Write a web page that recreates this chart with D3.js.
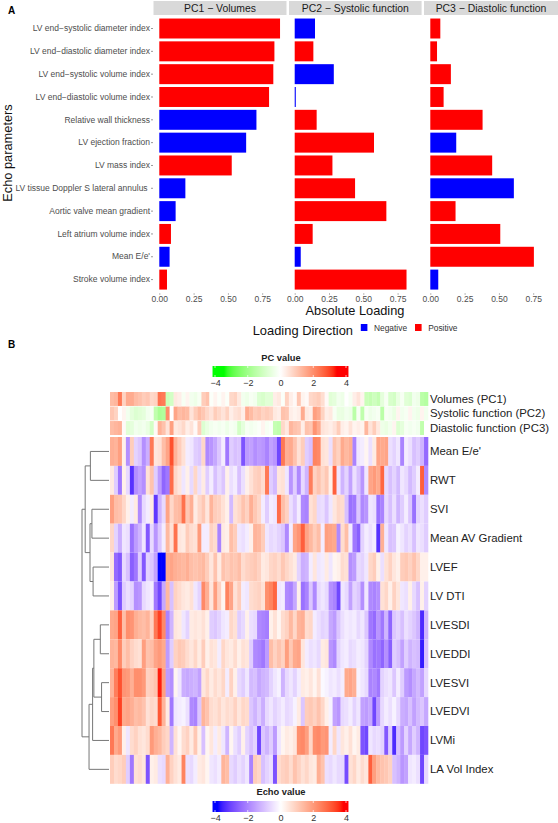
<!DOCTYPE html>
<html><head><meta charset="utf-8">
<script src="https://cdn.jsdelivr.net/npm/d3@7/dist/d3.min.js"></script>
<style>html,body{margin:0;background:#fff}svg{display:block;font-family:"Liberation Sans",Arial,sans-serif}</style>
</head><body><svg id="c" width="558" height="823"></svg>
<script>
const barCategories=["LV end−systolic diameter index","LV end−diastolic diameter index","LV end−systolic volume index","LV end−diastolic volume index","Relative wall thickness","LV ejection fraction","LV mass index","LV tissue Doppler S lateral annulus\u00a0","Aortic valve mean gradient","Left atrium volume index","Mean E/e'","Stroke volume index"];
const panelTitles=["PC1 − Volumes","PC2 − Systolic function","PC3 − Diastolic function"];
const pc1Loading=[.88,.839,.831,.80,-.708,-.633,.528,-.19,-.119,.085,-.075,.056];
const pc2Loading=[-.148,.136,-.285,-.008,.16,.578,.275,.44,.668,.131,-.044,.815];
const pc3Loading=[.073,.049,.15,.097,.381,-.189,.451,-.609,.184,.51,.755,-.058];
const xTicks=[0,.25,.5,.75];
const annotLabels=["Volumes (PC1)","Systolic function (PC2)","Diastolic function (PC3)"];
const rowLabels=["Mean E/e'","RWT","SVI","Mean AV Gradient","LVEF","LV DTI","LVESDI","LVEDDI","LVESVI","LVEDVI","LVMi","LA Vol Index"];
const legendTicks=[-4,-2,0,2,4];

const annotPC1=[1.2,1.3,2.3,.8,1.5,1.5,1.2,1.1,.9,1,.7,.8,2.4,2.3,-1.2,-1,.4,.3,-.2,.2,-.3,-.4,-.2,.9,1.1,-.1,.2,-.1,.2,-.1,.7,.8,.4,-.3,-.4,-.2,-.3,-.8,-.9,-.7,-.7,.3,.4,-.1,.8,.3,.1,1,.2,.1,.7,.8,.9,.6,.1,-.7,-.6,-.3,-.4,0,-.2,.3,.5,.2,-1.2,-1.3,-1.1,-1.3,-.6,-.2,-.9,-1,-.5,-.2,-.7,-.8,-.3,-.4,-1.5,-1.6];
const annotPC2=[1,.8,0,.2,-.3,-.6,-.8,-.7,-.6,-.3,-.2,-1.4,-1.8,-1.7,2,0,1.6,1.2,1.3,1.2,.5,.9,1.2,1,.7,.5,.9,.7,.5,.8,.3,.5,.6,.3,1.5,1.2,.9,1,.8,.9,.8,.4,.3,1.1,1,.3,.2,.3,1.5,.4,.3,1.7,1.5,.8,.3,.4,-.2,-.5,-.5,-.3,-.4,-1.5,-.2,-1.4,-.2,-.4,-.3,-.2,-1.5,-.2,-.3,-.5,.2,-.3,-.2,.2,-.3,-.4,.2,-.3];
const annotPC3=[1.2,1.3,1.4,.1,-.7,-.6,-.3,-.4,-.3,-.5,-1,.1,1.4,1.1,.5,1.7,.4,.5,.7,.3,.5,.1,.9,-.8,-.5,-.3,-.2,-.3,-.2,-.4,-.2,-.3,-1,-.6,-.2,-.3,-.2,-.1,.2,-.2,-.1,-1.3,-1.4,.7,.4,1.3,1.1,1,.3,1.1,1,1.9,1.5,.5,.4,.3,.5,.9,.3,.2,.5,.2,.3,.2,1.3,.5,.9,.4,-.4,-.5,-.3,.2,-.8,-.6,-.2,-.3,-.2,-.3,-1.4,0];

const rowMeanEe=[1.6,1.5,1.9,.3,-1.8,1,-.7,-.9,-1.8,-1.3,2.6,.5,.6,1.3,1.8,3.2,1.5,1,.6,-.3,-.4,-.8,-.9,.8,-1.9,-1.7,-1.4,-.9,-.3,-2.2,-.8,-1,-.9,-2.8,-1.6,-1.5,-1.8,-1.6,-1.7,-2,-1.5,-1.7,-3,2.6,1.6,1.7,1.2,.6,1,-.8,-1,2.4,2.3,.6,.5,-.5,1.2,.9,1.7,1.4,1.6,-2,-.4,-.3,.2,-.5,.4,1.8,1.7,1.8,-.5,-.7,-.4,-2,-.3,-.5,-1,-.8,-1.2,-2.4];
const rowRWT=[.4,-.8,-2.2,.3,-.6,-3.3,-1.8,-1.5,-1.8,.6,1.2,-.8,-1.6,-2.5,-2.2,2.8,.8,.5,-.4,.3,-.6,.8,-.5,.4,-.8,-.3,-1,-.6,-.9,.3,-.5,-.3,-1,-.5,.3,.6,.9,1,.7,2.6,-.8,-1.1,.5,.6,-.4,-1.7,-.8,-1.9,-.6,-1.2,2.5,.9,1.2,.8,1.1,.3,3,-.4,-1.2,-.7,-1.5,-.5,-1,-1.7,-.4,1.8,2,1.7,2.9,-.6,-1,-.7,-1.1,-.4,-.6,-1.1,-.8,-.3,3,-1.9];
const rowSVI=[1.9,1.3,1.2,.8,.3,-.3,.4,-1.9,-.6,-.3,.4,-3.2,-1.2,-.6,1.8,.8,1.3,1.4,2.7,1.1,1.6,.4,.8,1.1,.5,1.5,1,.9,.6,.3,-1.1,.6,.8,1.2,.9,1.6,1.1,.8,-.3,-.8,-.3,-.4,2.8,1.3,.9,-.5,-.9,-.3,-1.9,-2,.6,.8,-.6,-.5,-.9,-.4,.5,.8,.7,-1,-2.3,-2.2,-.9,-1.9,-1.7,-.4,-.5,-2.3,-2,-.6,-1,-.5,-1.2,-.8,-.3,-.9,-2.3,-.7,-.5,-.8];
const rowAVGrad=[.8,-.7,-1.3,-.4,-.5,-2.3,-1.6,-1.2,-.4,-2.7,-.6,-1.7,-.9,-.3,1.4,.6,2.7,.5,.4,1,.7,.6,2,-.3,-.3,.9,.7,-2,.4,.3,1.3,1,-.4,-.5,-.3,.3,1.5,1.4,1,-.4,-.6,-.5,-.7,-.9,-1.9,-.3,1.8,2.1,3,1.8,1.4,1,1.3,-.3,1.9,1.8,1.7,-1.9,.7,1.3,-.3,-2.2,-2.6,-.7,-.3,-.5,-.3,-3.3,1.6,-.4,-1,-.9,-.2,-.4,-.7,-.5,-1,-.4,-.5,-.8];
const rowLVEF=[.5,-2.4,-2.7,-.6,-1,-2.6,-2.2,-.8,-2.7,-.7,-.9,-1.5,-4,-4,1.7,1.8,1.6,1.5,1.4,1.6,1.3,1.2,1.3,1.4,1,.5,1.2,.4,1.2,1,1.2,1.1,1.3,.7,.9,1,1.1,.9,.4,.5,.8,.9,.7,1.1,.8,.6,.4,-.7,-1.3,-1.2,-.3,.5,-.4,-.3,.4,-.4,.2,.3,.7,.6,-1.8,-1.6,-.6,-.7,-.4,.8,1,.3,-.5,.6,.9,.5,.3,1,1.1,.9,1.2,.8,.3,.3];
const rowLVDTI=[.3,-1.6,-2.8,-.8,-.5,-.7,-1.8,-1.7,-.6,-.4,-.3,-2.2,-3,-1.4,1.4,-1,.9,.7,.5,.4,.6,-.4,-.7,2.3,1.6,.5,1.9,.9,.2,2.4,1.8,.6,1,-.3,-.4,.7,.8,.9,.6,2.2,2.4,2.9,-.4,-.3,-1.9,-2,-1.4,.3,-2.3,-2,-.9,-1.9,-.6,-.4,-.6,-1.8,-2,-3,-.4,-.6,-1.5,-.7,-.9,-1.8,-.4,-1.9,-2,-1.8,.6,.8,.3,.9,.5,-.4,-.5,.3,-.6,-1,.3,-.7];
const rowLVESDI=[1.7,1.8,3,1.3,2.2,2.1,1.6,1.4,1.3,1.5,.9,2.6,3.4,2.3,-2,-1.2,.5,.4,-.4,-.7,.4,.5,.4,.6,.3,-.8,-.9,-.7,-.4,-.3,.8,.6,-.8,-.6,.3,-.5,-.6,-1.9,-2,-2.1,.3,.6,.2,.7,.9,1.4,.8,1.5,1.6,.7,.8,-.3,-.5,-.7,-.6,-1.4,-1.6,-.9,-.5,-.3,-.4,-.3,-.6,-.4,-.9,-2.2,-2.4,-1.7,-2.2,-1.2,-2.5,-.9,-.7,-1,-.5,-.7,-.9,-1.2,-3.4,-1.2];
const rowLVEDDI=[1.5,1.4,2.3,1,1.3,.9,.7,.6,1.9,1.2,1.3,1.8,2,1.7,-1.6,-.8,.9,1.1,1,.7,.5,.8,.4,1,.3,.6,.5,-.3,.8,.5,.4,.7,.3,.6,.5,-.8,-1.9,-2,-2.2,-1.6,1.3,.9,1.2,.9,1.9,1.1,1.7,1.8,.5,-.3,-.5,-.4,-.6,.4,.5,-1.7,-1.9,-.7,-.4,-.3,-.6,-.5,-.3,-.4,-.7,-1.9,-2.3,-2.2,-2.5,-1.8,-2.6,-.8,-1,-1.5,-.8,-1.2,-1,-1.1,-3.6,-1];
const rowLVESVI=[1.5,2.5,3.2,2.1,2,1.6,2.2,2.2,2,.9,1,1.2,3.7,1.9,-1.6,-1.8,.2,-.4,-1.3,-1.4,-1.3,-1.2,-1.5,.5,.8,.4,.7,.5,.8,-.3,.9,.3,-.6,-.8,-.4,-1.1,-1,-1.4,-1.2,-1.1,-.7,-.4,-.2,-1.2,-.6,-.4,-.7,-.3,.4,.3,.5,.2,.6,-.1,-.2,-.4,-.3,-.5,-.3,1.7,1.8,1.6,-.2,-.4,-.6,-2,-1.9,-2.2,-.7,-.5,-.4,-.9,-.3,-.8,-1.6,-1.8,-1.4,-1.1,-1.5,-.6];
const rowLVEDVI=[1.9,2.2,3.4,1.7,1.8,1.6,1.3,1.4,1.2,.6,.8,.7,3.1,1.5,.4,-2.2,-.4,-.3,-.2,-.5,-1.9,-2,-.9,1.5,1.2,.7,.6,.8,.5,.7,.6,.9,.5,.8,.7,-.9,-1.2,-.8,-1.3,-.6,-.4,-.7,-.5,-.3,-.6,-.5,-.2,.4,-.9,1,1.1,.9,1.2,.8,.3,-.2,-1.5,-1.7,-.6,-.5,-.3,-.7,-.4,-1.5,-1.6,-1.4,-3,-1.6,-.6,-.3,-.5,-.2,-.6,-1.3,-1.4,-1,-1.5,-1.1,-.9,-1.4];
const rowLVMi=[2.6,1.7,2,.3,-.4,.7,.9,.6,.5,.7,2,1.6,1.4,1,.8,-1.2,.6,.2,.7,.9,.4,1.1,.3,-1,.2,.5,-.3,.4,-.4,-1.2,.2,-.5,-.8,.3,-.7,-1,-.7,-3,-.9,-1.2,-.8,-1.6,-.4,.2,.4,.3,.5,2.2,2.3,1.9,.8,2.2,2.3,2,2.1,-.3,.8,-.4,.5,.3,.6,.2,.4,-2.8,-3,-.4,-.6,-.5,-.7,-2.7,-.8,-3.4,-1,-1.6,-.7,-1.4,-.8,-1.2,-3,-2.8];
const rowLAVol=[1,.7,.8,1,-.8,-2.2,.6,.7,.5,-2.8,.3,.4,-.5,-.6,1.6,.9,.6,.4,2.4,-.5,-.6,-.3,.4,.5,.2,-.4,-.5,-.3,1.5,1.3,-.6,-.8,-.5,-.7,-.4,-2,1,.8,-1,-.7,-.5,-2.8,.7,.9,1,.7,1.2,.9,.6,.8,.5,.4,1.6,1.2,-.5,-.6,-.4,-.6,-.6,-2.9,.6,.8,.4,.7,.5,3,1.9,1.4,1.2,1.1,.9,-1,-1.2,-1.7,-1.5,-.4,-.3,-.5,-3,-.6];

// Dendrogram: merges with left, right and height; numeric children are row indices
const dendroMerges=[
 {id:"A",l:0,r:1,h:9.65},{id:"B",l:2,r:3,h:8.85},{id:"C",l:4,r:5,h:8.25},
 {id:"D",l:"B",r:"C",h:9.85},{id:"E",l:"A",r:"D",h:12.35},
 {id:"F",l:6,r:7,h:4.5},{id:"G",l:8,r:9,h:3.85},{id:"H",l:"F",r:"G",h:7.85},
 {id:"I",l:"H",r:10,h:8.5},{id:"J",l:"I",r:11,h:10.35},{id:"K",l:"E",r:"J",h:14}];

const annots=[annotPC1,annotPC2,annotPC3];
const rows=[rowMeanEe,rowRWT,rowSVI,rowAVGrad,rowLVEF,rowLVDTI,rowLVESDI,rowLVEDDI,rowLVESVI,rowLVEDVI,rowLVMi,rowLAVol];

const svg=d3.select("#c");
const BLUE="#0000ff",RED="#ff0000";

// ---------- Panel A ----------
const panels=[
 {title:panelTitles[0],vals:pc1Loading,s:[153.5,286.5],x0:159.3,x75:262.2},
 {title:panelTitles[1],vals:pc2Loading,s:[289,421.6],x0:294.7,x75:397.6},
 {title:panelTitles[2],vals:pc3Loading,s:[424,558],x0:430.3,x75:533.2}];
const y=d3.scaleBand().domain(barCategories).range([17.1,291]).paddingInner(.125).paddingOuter(.0625);
panels.forEach(p=>{
 const g=svg.append("g");
 g.append("rect").attr("x",p.s[0]).attr("y",1).attr("width",p.s[1]-p.s[0]).attr("height",14).attr("fill","#d9d9d9");
 g.append("text").attr("x",(p.s[0]+p.s[1])/2).attr("y",12).attr("text-anchor","middle").attr("font-size",10.4).attr("fill","#1a1a1a").text(p.title);
 const x=d3.scaleLinear().domain([0,.75]).range([p.x0,p.x75]);
 g.selectAll("rect.b").data(p.vals).join("rect").attr("class","b")
  .attr("x",x(0)).attr("y",(d,i)=>y(barCategories[i])).attr("height",y.bandwidth())
  .attr("width",d=>x(Math.abs(d))-x(0)).attr("fill",d=>d<0?BLUE:RED);
 const ax=g.append("g").attr("transform","translate(0,293)")
  .call(d3.axisBottom(x).tickValues(xTicks).tickFormat(d3.format(".2f")).tickSize(2).tickPadding(1));
 ax.select(".domain").remove();
 ax.selectAll("line").attr("stroke","#bbb");
 ax.selectAll("text").attr("font-size",8.5).attr("fill","#4d4d4d").attr("font-family","inherit");
});
const yAx=svg.append("g").attr("transform","translate(153,0)").call(d3.axisLeft(y).tickSize(2).tickPadding(1));
yAx.select(".domain").remove();
yAx.selectAll("line").attr("stroke","#999");
yAx.selectAll("text").attr("font-size",8.5).attr("fill","#4d4d4d").attr("font-family","inherit");

svg.append("text").attr("transform","translate(11.5,153) rotate(-90)").attr("text-anchor","middle").attr("font-size",12.8).attr("fill","#111").text("Echo parameters");
svg.append("text").attr("x",355).attr("y",314.5).attr("text-anchor","middle").attr("font-size",12.8).attr("fill","#111").text("Absolute Loading");
svg.append("text").attr("x",353).attr("y",335).attr("text-anchor","end").attr("font-size",12.9).attr("fill","#111").text("Loading Direction");
[["Negative",BLUE,360.8],["Positive",RED,415]].forEach(([t,c,xp])=>{
 svg.append("rect").attr("x",xp).attr("y",324).attr("width",6.6).attr("height",7).attr("fill",c);
 svg.append("text").attr("x",xp+13.2).attr("y",331).attr("font-size",8.4).attr("fill","#333").text(t);
});
svg.append("text").attr("x",8).attr("y",14).attr("font-size",10).attr("font-weight","bold").text("A");
svg.append("text").attr("x",8).attr("y",348).attr("font-size",10).attr("font-weight","bold").text("B");

// ---------- Panel B ----------
const pcColor=d3.scaleLinear().domain([-4,-3.4,0,3.4,4]).range(["#00ff00","#00ff00","#ffffff",RED,RED]).interpolate(d3.interpolateLab);
const echoColor=d3.scaleLinear().domain([-4,-3.8,0,3.8,4]).range([BLUE,BLUE,"#ffffff",RED,RED]).interpolate(d3.interpolateLab);
const colX=d3.scaleBand().domain(d3.range(80)).range([110,428]);
const annotY=d3.scaleBand().domain(d3.range(3)).range([392,435]).paddingInner(.04);
const rowY=d3.scaleBand().domain(d3.range(12)).range([437,783.8]);

const defs=svg.append("defs");
defs.append("filter").attr("id","soft").attr("x","-2%").attr("width","104%").attr("y","0%").attr("height","100%")
 .append("feGaussianBlur").attr("stdDeviation","0.6 0");

annots.forEach((vals,r)=>{
 svg.append("g").attr("filter","url(#soft)").selectAll("rect").data(vals).join("rect")
  .attr("x",(d,i)=>colX(i)).attr("width",colX.bandwidth()+.3).attr("y",annotY(r)).attr("height",annotY.bandwidth())
  .attr("fill",d=>pcColor(d));
 svg.append("text").attr("x",430).attr("y",annotY(r)+annotY.bandwidth()/2+3.9).attr("font-size",11.4).attr("fill","#222").text(annotLabels[r]);
});
rows.forEach((vals,r)=>{
 svg.append("g").attr("filter","url(#soft)").selectAll("rect").data(vals).join("rect")
  .attr("x",(d,i)=>colX(i)).attr("width",colX.bandwidth()+.3).attr("y",rowY(r)).attr("height",rowY.bandwidth())
  .attr("fill",d=>echoColor(d));
 svg.append("text").attr("x",430).attr("y",rowY(r)+rowY.bandwidth()/2+3.9).attr("font-size",11.4).attr("fill","#222").text(rowLabels[r]);
});

// dendrogram
const dX=d3.scaleLinear().domain([0,14]).range([109,82]);
const nodes={};
const resolve=k=>typeof k==="number"?{y:rowY(k)+rowY.bandwidth()/2,h:0}:nodes[k];
const dg=svg.append("g").attr("fill","none").attr("stroke","#777").attr("stroke-width",1);
dendroMerges.forEach(m=>{
 const a=resolve(m.l),b=resolve(m.r);
 const path=d3.path();
 path.moveTo(dX(a.h),a.y);path.lineTo(dX(m.h),a.y);path.lineTo(dX(m.h),b.y);path.lineTo(dX(b.h),b.y);
 dg.append("path").attr("d",path.toString());
 nodes[m.id]={y:(a.y+b.y)/2,h:m.h};
});

// colour legends
function legend(id,title,color,titleY,barY){
 const lx=d3.scaleLinear().domain([-4,4]).range([215,346]);
 const grad=defs.append("linearGradient").attr("id",id);
 d3.range(-4.15,4.2,.1).forEach(v=>{
  grad.append("stop").attr("offset",(lx(v)-lx(-4.15))/(lx(4.15)-lx(-4.15))).attr("stop-color",color(Math.max(-4,Math.min(4,v))));
 });
 svg.append("text").attr("x",281).attr("y",titleY).attr("text-anchor","middle").attr("font-size",9.3).attr("font-weight","bold").attr("fill","#222").text(title);
 svg.append("rect").attr("x",lx(-4.15)).attr("y",barY).attr("width",lx(4.15)-lx(-4.15)).attr("height",11).attr("fill",`url(#${id})`);
 const ag=svg.append("g").attr("transform",`translate(0,${barY+11})`)
  .call(d3.axisBottom(lx).tickValues(legendTicks).tickFormat(d=>d<0?"−"+(-d):d).tickSize(0).tickPadding(3));
 ag.select(".domain").remove();
 ag.selectAll("text").attr("font-size",9).attr("fill","#333").attr("font-family","inherit");
 legendTicks.forEach(t=>{
  [[barY,barY+2],[barY+9,barY+11]].forEach(([a,b])=>svg.append("line").attr("x1",lx(t)).attr("x2",lx(t)).attr("y1",a).attr("y2",b).attr("stroke","#fff").attr("stroke-width",.7));
 });
}
legend("gp","PC value",pcColor,361,366);
legend("ge","Echo value",echoColor,795,801);
</script></body></html>
